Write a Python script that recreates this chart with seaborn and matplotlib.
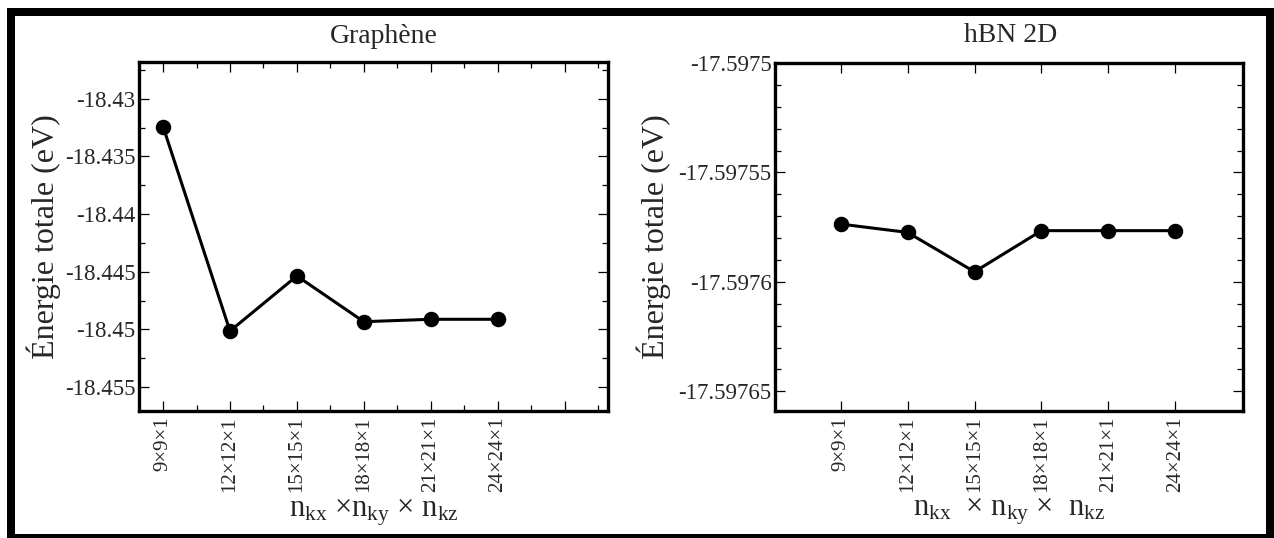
import numpy as np
import pandas as pd
import matplotlib
matplotlib.use("Agg")
import matplotlib.pyplot as plt
from matplotlib.patches import Rectangle
from matplotlib.ticker import MultipleLocator, FuncFormatter
import seaborn as sns

# k-point grids and converged total energies (eV)
grids = ["9×9×1", "12×12×1", "15×15×1", "18×18×1", "21×21×1", "24×24×1"]
graphene_energy = [-18.43241, -18.45015, -18.44537, -18.44934, -18.44913, -18.44913]
hbn_energy = [-17.5975736, -17.5975774, -17.5975954, -17.5975766, -17.5975766, -17.5975766]

titles = ["Graphène", "hBN 2D"]
ylabel_text = "Énergie totale (eV)"
xlabel_texts = [
    r"n$_{\mathrm{kx}}$ ×n$_{\mathrm{ky}}$ × n$_{\mathrm{kz}}$",
    r"n$_{\mathrm{kx}}$  × n$_{\mathrm{ky}}$ ×  n$_{\mathrm{kz}}$",
]

sns.set_theme(style="ticks")
plt.rcParams["font.family"] = ["Liberation Serif", "DejaVu Serif"]
plt.rcParams["mathtext.fontset"] = "custom"
plt.rcParams["mathtext.rm"] = "Liberation Serif"
plt.rcParams["mathtext.it"] = "Liberation Serif:italic"
plt.rcParams["axes.linewidth"] = 2.4

W, H = 1274, 538
fig = plt.figure(figsize=(W / 100, H / 100), dpi=100)
fig.patch.set_facecolor("white")


def frac_box(x0, y0, x1, y1):
    """Pixel box (top-left origin) -> figure-fraction rect."""
    return [x0 / W, 1 - y1 / H, (x1 - x0) / W, (y1 - y0) / H]


ax1 = fig.add_axes(frac_box(139, 62, 608, 411))
ax2 = fig.add_axes(frac_box(775, 63, 1243, 411))

fmt = FuncFormatter(lambda v, p: f"{v:.10g}")

for ax, energy in ((ax1, graphene_energy), (ax2, hbn_energy)):
    df = pd.DataFrame({"grid": grids, "energy": energy})
    sns.pointplot(data=df, x="grid", y="energy", ax=ax, color="black",
                  errorbar=None, markers="o", linestyles="-",
                  markersize=9.5, linewidth=2.2)
    ax.set_xlabel("")
    ax.set_ylabel("")
    ax.yaxis.set_major_formatter(fmt)
    ax.tick_params(which="both", direction="in", top=True, right=True,
                   color="black", width=0.9)
    ax.tick_params(which="major", length=7.5)
    ax.tick_params(which="minor", length=4.5)
    ax.tick_params(axis="y", labelsize=16.5, pad=2.5)
    ax.tick_params(axis="x", labelsize=15, pad=4, labelrotation=90)
    for s in ax.spines.values():
        s.set_color("black")
        s.set_linewidth(2.4)

# Graphene panel
ax1.set_xlim(-0.36, 6.65)
ax1.set_ylim(-18.45709, -18.42680)
ax1.set_xticks(range(len(grids) + 1))
ax1.set_xticklabels(grids + [""])
ax1.xaxis.set_minor_locator(MultipleLocator(0.5))
ax1.yaxis.set_major_locator(MultipleLocator(0.005))
ax1.yaxis.set_minor_locator(MultipleLocator(0.0025))

# hBN panel
ax2.set_xlim(-0.98, 6.01)
ax2.set_ylim(-17.597659, -17.5975)
ax2.set_xticks(range(len(grids)))
ax2.set_xticklabels(grids)
ax2.yaxis.set_major_locator(MultipleLocator(0.00005))
ax2.yaxis.set_minor_locator(MultipleLocator(0.00001))

for ax, xl in ((ax1, xlabel_texts[0]), (ax2, xlabel_texts[1])):
    ax.set_xlabel(xl, fontsize=22, va="baseline")
    ax.xaxis.set_label_coords(0.5, -(516 - 411) / 349)

# Titles and y labels placed in figure pixels
for txt, cx, by in ((titles[0], 384, 43), (titles[1], 1011, 42)):
    fig.text(cx / W, 1 - by / H, txt, fontsize=20, ha="center", va="baseline")
for cx in (44, 654):
    fig.text(cx / W, 1 - 236.5 / H, ylabel_text, fontsize=23, rotation=90,
             ha="center", va="center")

# Outer black frame
for x0, y0, x1, y1 in ((7, 8, 1274, 16), (7, 8, 15, 538),
                       (1266, 8, 1274, 538), (7, 534, 1274, 538)):
    r = frac_box(x0, y0, x1, y1)
    fig.add_artist(Rectangle((r[0], r[1]), r[2], r[3], transform=fig.transFigure,
                             facecolor="black", edgecolor="none"))

fig.savefig("out.png", dpi=100)
